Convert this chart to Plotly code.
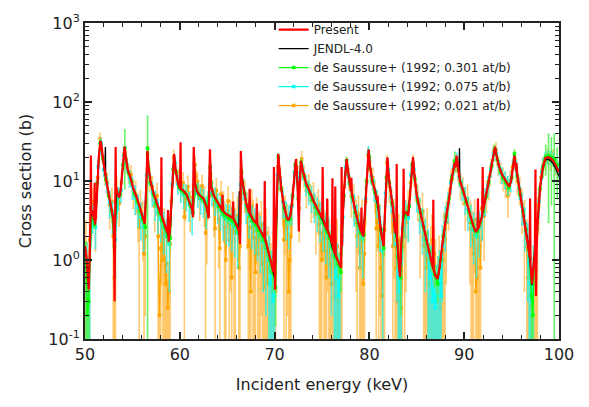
import plotly.graph_objects as go

# ---- Evaluated cross sections: (incident energy keV, cross section b) ----
present = [
    (50.00, 1.5), (50.15, 1.1), (50.30, 0.6), (50.40, 0.42), (50.50, 1.2), (50.58, 3.4), (50.62, 21), (50.66, 3.8),
    (50.75, 4.2), (50.90, 3.5), (50.98, 3.2), (51.02, 9.5), (51.06, 2.8), (51.15, 3.5), (51.30, 9), (51.45, 20),
    (51.62, 32), (51.70, 31), (51.85, 21), (52.00, 15), (52.20, 11), (52.40, 8), (52.60, 5.8), (52.85, 4.2),
    (53.00, 3.2), (53.08, 1.2), (53.12, 0.3), (53.17, 2.0), (53.20, 6), (53.23, 27), (53.27, 8.5), (53.45, 6.8),
    (53.60, 6.2), (53.75, 7.5), (53.90, 11), (54.05, 19), (54.18, 27), (54.30, 20), (54.50, 14), (54.80, 11),
    (55.10, 8), (55.50, 6), (55.80, 4.5), (56.10, 3.6), (56.30, 2.9), (56.45, 8), (56.58, 24), (56.70, 15),
    (56.90, 10), (57.20, 7.2), (57.50, 5.5), (57.80, 4.4), (58.02, 3.7), (58.06, 20), (58.10, 3.6), (58.40, 2.8),
    (58.70, 2.2), (58.76, 4.3), (58.82, 1.7), (58.95, 2.4), (59.10, 5), (59.25, 12), (59.40, 22), (59.55, 14),
    (59.80, 9.5), (60.02, 8), (60.08, 31), (60.13, 8), (60.35, 7.6), (60.70, 6.8), (61.00, 5.5), (61.30, 4.4),
    (61.40, 3.5), (61.47, 27), (61.60, 9.5), (61.80, 7.4), (62.10, 6.6), (62.50, 6.0), (62.80, 4.8), (63.05, 3.4),
    (63.18, 25), (63.30, 8.5), (63.60, 6.5), (63.90, 5.6), (64.20, 5.0), (64.46, 4.3), (64.51, 6.7), (64.56, 4.2),
    (64.90, 3.8), (65.30, 3.6), (65.57, 3.4), (65.62, 5.5), (65.67, 3.3), (66.00, 2.8), (66.25, 2.3), (66.36, 1.6),
    (66.44, 24), (66.55, 11), (66.70, 8.5), (67.00, 5.2), (67.30, 4.0), (67.37, 8), (67.42, 3.9), (67.75, 3.2),
    (68.08, 2.9), (68.13, 5.2), (68.18, 2.8), (68.46, 2.4), (68.80, 2.0), (68.92, 1.9), (68.96, 10), (69.00, 1.8),
    (69.20, 1.5), (69.45, 1.1), (69.70, 0.85), (69.88, 0.7), (69.93, 15), (69.98, 0.55), (70.05, 0.42), (70.15, 2.5),
    (70.25, 8), (70.38, 22), (70.50, 15), (70.70, 8), (71.00, 4.8), (71.30, 3.4), (71.45, 3.2), (71.65, 3.6),
    (71.85, 5.5), (72.05, 11), (72.25, 19), (72.42, 9), (72.52, 4), (72.56, 2.3), (72.62, 8), (72.78, 18),
    (72.95, 14), (73.30, 9.5), (73.70, 7.4), (74.10, 5.6), (74.50, 4.5), (74.80, 3.8), (75.02, 3.4), (75.07, 15),
    (75.12, 3.3), (75.40, 2.6), (75.50, 2.45), (75.55, 6), (75.60, 2.35), (75.90, 1.9), (76.05, 1.6), (76.10, 10.8),
    (76.15, 1.5), (76.35, 1.2), (76.40, 8.5), (76.45, 1.15), (76.70, 0.95), (76.90, 0.85), (77.02, 0.8), (77.07, 15),
    (77.12, 1.5), (77.15, 2.5), (77.30, 7), (77.45, 13), (77.60, 19), (77.75, 13), (77.95, 9), (78.05, 7.5),
    (78.10, 11), (78.15, 7), (78.50, 4.2), (78.80, 3.0), (79.05, 2.4), (79.12, 2.3), (79.16, 4.6), (79.20, 2.2),
    (79.36, 2.0), (79.50, 3.5), (79.65, 8), (79.80, 16), (79.92, 25), (80.05, 16), (80.30, 10), (80.60, 7.5),
    (80.80, 5.6), (80.85, 6.5), (80.90, 5.0), (81.00, 4.0), (81.18, 2.4), (81.35, 1.8), (81.50, 1.5), (81.60, 3),
    (81.75, 9), (81.90, 19.8), (82.05, 11), (82.30, 6.5), (82.50, 4.5), (82.60, 3.0), (82.70, 2.2), (82.80, 2.6),
    (82.85, 3.0), (82.88, 16.4), (82.92, 2.0), (83.10, 0.9), (83.23, 0.61), (83.35, 1.5), (83.50, 3.0), (83.57, 3.5),
    (83.61, 14.3), (83.65, 4), (83.90, 4), (84.10, 3.6), (84.30, 7), (84.45, 14), (84.60, 20), (84.75, 12),
    (85.00, 6.5), (85.34, 4.2), (85.60, 3.0), (85.90, 2.0), (86.20, 1.4), (86.50, 1.0), (86.70, 0.8), (86.74, 5.8),
    (86.78, 0.75), (87.00, 0.62), (87.20, 0.58), (87.40, 0.8), (87.70, 1.6), (87.95, 2.8), (88.15, 3.8), (88.40, 6),
    (88.70, 11), (89.00, 17), (89.10, 15), (89.20, 21), (89.35, 14), (89.55, 10), (89.90, 7.5), (90.30, 5.0),
    (90.70, 3.4), (91.00, 2.6), (91.20, 2.3), (91.40, 2.4), (91.45, 6), (91.50, 2.5), (91.90, 3.6), (91.95, 15),
    (92.00, 4.2), (92.30, 6.5), (92.60, 10), (92.90, 16), (93.25, 27), (93.45, 20), (93.70, 15), (94.00, 12),
    (94.40, 10), (94.75, 8.5), (94.95, 10), (95.15, 16), (95.30, 21), (95.45, 14), (95.52, 17), (95.58, 12.5),
    (95.65, 11), (95.90, 7), (96.20, 4.2), (96.50, 2.5), (96.75, 1.6), (96.90, 1.1), (96.95, 6), (97.00, 0.85),
    (97.15, 0.5), (97.30, 0.9), (97.45, 1.2), (97.52, 14), (97.57, 0.35), (97.65, 1.5), (97.75, 3), (98.03, 8.9),
    (98.30, 15), (98.56, 19.5), (98.80, 20), (99.10, 19.5), (99.40, 18), (99.70, 15.5), (100.00, 13),
]

jendl = [
    (50.00, 1.5), (50.15, 1.1), (50.30, 0.6), (50.40, 0.45), (50.50, 1.2), (50.60, 3.5), (50.75, 4.2), (50.90, 3.5),
    (51.05, 3.0), (51.15, 3.5), (51.30, 9), (51.45, 20), (51.62, 32), (51.70, 31), (51.85, 21), (52.00, 15),
    (52.12, 11.8), (52.15, 27), (52.18, 11.4), (52.40, 8), (52.60, 5.8), (52.85, 4.2), (53.00, 3.2), (53.10, 1.2),
    (53.20, 2.5), (53.30, 7.5), (53.45, 6.8), (53.60, 6.2), (53.75, 7.5), (53.90, 11), (54.05, 19), (54.18, 27),
    (54.30, 20), (54.50, 14), (54.80, 11), (55.10, 8), (55.50, 6), (55.80, 4.5), (56.10, 3.6), (56.30, 2.9),
    (56.45, 8), (56.58, 24), (56.70, 15), (56.90, 10), (57.20, 7.2), (57.50, 5.5), (57.80, 4.4), (58.10, 3.6),
    (58.40, 2.8), (58.70, 2.2), (58.88, 1.9), (59.00, 2.6), (59.10, 5), (59.25, 12), (59.40, 22), (59.55, 14),
    (59.80, 9.5), (60.00, 8), (60.35, 7.6), (60.70, 6.8), (61.00, 5.5), (61.30, 4.4), (61.40, 3.5), (61.47, 27),
    (61.60, 9.5), (61.80, 7.4), (62.10, 6.6), (62.50, 6.0), (62.80, 4.8), (63.05, 3.4), (63.18, 25), (63.30, 8.5),
    (63.60, 6.5), (63.90, 5.6), (64.20, 5.0), (64.50, 4.2), (64.90, 3.8), (65.30, 3.6), (65.70, 3.3), (66.00, 2.8),
    (66.24, 2.35), (66.27, 7.4), (66.30, 2.1), (66.38, 1.6), (66.44, 24), (66.55, 11), (66.70, 8.5), (67.00, 5.2),
    (67.30, 4.0), (67.75, 3.2), (68.10, 2.9), (68.46, 2.4), (68.80, 2.0), (69.05, 1.8), (69.20, 1.5), (69.45, 1.1),
    (69.70, 0.85), (69.85, 0.7), (70.00, 0.6), (70.05, 0.62), (70.15, 2.5), (70.25, 8), (70.38, 22), (70.50, 15),
    (70.70, 8), (71.00, 4.8), (71.30, 3.4), (71.45, 3.2), (71.65, 3.6), (71.85, 5.5), (72.05, 11), (72.25, 19),
    (72.42, 9), (72.55, 5), (72.62, 8), (72.78, 18), (72.95, 14), (73.30, 9.5), (73.70, 7.4), (74.10, 5.6),
    (74.50, 4.5), (74.80, 3.8), (75.00, 3.4), (75.40, 2.6), (75.47, 2.5), (75.50, 4.0), (75.53, 2.45), (75.90, 1.9),
    (76.05, 1.5), (76.35, 1.2), (76.70, 0.95), (76.90, 0.85), (77.00, 0.8), (77.05, 1.2), (77.08, 4.4), (77.11, 1.8),
    (77.15, 2.5), (77.30, 7), (77.45, 13), (77.60, 19), (77.75, 13), (77.95, 9), (78.20, 6.5), (78.50, 4.2),
    (78.80, 3.0), (79.05, 2.4), (79.25, 2.1), (79.36, 2.0), (79.50, 3.5), (79.65, 8), (79.80, 16), (79.92, 25),
    (80.05, 16), (80.30, 10), (80.60, 7.5), (80.85, 5.3), (81.00, 4.0), (81.20, 2.6), (81.35, 1.8), (81.50, 1.5),
    (81.60, 3), (81.75, 9), (81.90, 19.8), (82.05, 11), (82.30, 6.5), (82.50, 4.5), (82.65, 3.2), (82.80, 2.2),
    (82.95, 1.6), (83.10, 0.9), (83.23, 0.61), (83.35, 1.5), (83.50, 3.0), (83.70, 4), (83.90, 4), (84.10, 3.7),
    (84.30, 7), (84.45, 14), (84.60, 20), (84.75, 12), (85.00, 6.5), (85.34, 4.2), (85.60, 3.0), (85.90, 2.0),
    (86.20, 1.4), (86.50, 1.0), (86.70, 0.8), (87.00, 0.62), (87.20, 0.58), (87.40, 0.8), (87.70, 1.6), (87.95, 2.8),
    (88.15, 3.8), (88.40, 6), (88.70, 11), (89.00, 17), (89.10, 15), (89.20, 20), (89.35, 14), (89.47, 11),
    (89.50, 26), (89.53, 10.5), (89.90, 7.5), (90.30, 5.0), (90.70, 3.4), (91.00, 2.6), (91.20, 2.3), (91.50, 2.6),
    (91.85, 3.5), (92.05, 4.5), (92.30, 6.5), (92.60, 10), (92.90, 16), (93.25, 27), (93.45, 20), (93.70, 15),
    (94.00, 12), (94.40, 10), (94.75, 8.5), (94.95, 10), (95.15, 16), (95.30, 21), (95.45, 14), (95.65, 11),
    (95.90, 7), (96.20, 4.2), (96.50, 2.5), (96.75, 1.6), (97.00, 0.8), (97.15, 0.48), (97.30, 0.9), (97.50, 1.5),
    (97.75, 3), (98.03, 8.7), (98.30, 14.5), (98.56, 18.5), (98.80, 18.8), (99.10, 18.3), (99.40, 16.5),
    (99.70, 14), (100.00, 11.5),
]

# ---- de Saussure+ (1992) transmission data: (E keV, xs b, error b) ----
saussure_301 = [
    (50.1, 0.9, 0.8), (50.25, 0.2, 0.25), (50.4, 0.3, 0.35), (50.7, 3.6, 0.4), (51.0, 2.8, 0.3), (51.3, 9.5, 0.8),
    (51.6, 30, 3), (51.9, 19, 1.5), (52.2, 10.5, 0.8), (52.5, 6.5, 0.5), (52.8, 4.2, 0.4), (53.1, 1.5, 0.5),
    (53.4, 7, 0.6), (53.7, 6.8, 0.6), (54.0, 16, 1.5), (54.2, 26, 18), (54.6, 12.5, 1), (54.9, 9.8, 0.8),
    (55.2, 7, 0.6), (55.5, 5.6, 0.5), (55.8, 4.2, 0.5), (56.1, 3.3, 0.5), (56.35, 2.6, 0.5), (56.6, 26, 40),
    (56.9, 9.5, 0.8), (57.2, 6.8, 0.6), (57.5, 5.2, 0.5), (57.8, 4.1, 0.5), (58.1, 3.2, 0.5), (58.4, 2.6, 0.4),
    (58.7, 2.0, 0.4), (59.0, 1.9, 0.5), (59.3, 14, 1.2), (59.6, 13, 1), (59.9, 8.5, 0.7), (60.2, 7.6, 0.6),
    (60.5, 7.0, 0.6), (60.8, 6.2, 0.6), (61.1, 5.0, 0.5), (61.4, 4.0, 0.5), (61.7, 8.5, 0.7), (62.0, 6.7, 0.6),
    (62.3, 6.1, 0.6), (62.6, 5.4, 0.5), (62.9, 4.3, 0.5), (63.2, 15, 1.5), (63.5, 6.8, 0.6), (63.8, 5.7, 0.5),
    (64.1, 4.8, 0.5), (64.4, 4.2, 0.5), (64.7, 3.7, 0.5), (65.0, 3.5, 0.5), (65.3, 3.3, 0.5), (65.6, 3.1, 0.5),
    (65.9, 2.8, 0.5), (66.2, 2.2, 0.4), (66.5, 13, 1.2), (66.8, 7.2, 0.6), (67.1, 4.6, 0.5), (67.4, 3.6, 0.5),
    (67.7, 3.1, 0.5), (68.0, 2.8, 0.5), (68.3, 2.4, 0.5), (68.6, 2.1, 0.4), (68.9, 1.8, 0.4), (69.2, 1.4, 0.3),
    (69.5, 1.0, 0.3), (69.8, 0.7, 0.3), (70.1, 0.45, 0.3), (70.4, 20, 2), (70.7, 8, 0.7), (71.0, 4.6, 0.5),
    (71.3, 3.3, 0.5), (71.6, 3.3, 0.5), (71.9, 6.5, 0.6), (72.2, 16, 1.5), (72.5, 6, 0.6), (72.8, 17, 1.5),
    (73.1, 11.5, 1), (73.4, 8.8, 0.8), (73.7, 7, 0.6), (74.0, 5.7, 0.5), (74.3, 4.7, 0.5), (74.6, 4.0, 0.5),
    (74.9, 3.4, 0.5), (75.2, 2.9, 0.5), (75.5, 2.3, 0.4), (75.8, 1.9, 0.4), (76.1, 1.4, 0.3), (76.4, 1.1, 0.3),
    (76.7, 0.9, 0.3), (77.0, 0.7, 0.3), (77.3, 6.5, 0.6), (77.6, 18, 1.6), (77.9, 9.5, 0.8), (78.2, 6.2, 0.6),
    (78.5, 4.0, 0.5), (78.8, 2.9, 0.4), (79.1, 2.2, 0.4), (79.4, 2.1, 0.4), (79.7, 10, 0.9), (80.0, 20, 2),
    (80.3, 10, 0.9), (80.6, 7.2, 0.6), (80.9, 4.8, 0.5), (81.2, 2.4, 0.4), (81.5, 1.4, 0.3), (81.8, 11, 1),
    (82.1, 9.5, 0.8), (82.4, 5.3, 0.5), (82.7, 2.8, 0.4), (83.0, 1.1, 0.3), (83.3, 0.6, 0.4), (83.6, 3.5, 0.5),
    (83.9, 3.8, 0.5), (84.2, 4.8, 0.5), (84.5, 16, 1.5), (84.8, 10.5, 1), (85.1, 5.5, 0.5), (85.4, 3.9, 0.5),
    (85.7, 2.6, 0.4), (86.0, 1.8, 0.4), (86.3, 1.3, 0.3), (86.6, 0.9, 0.2), (86.9, 0.65, 0.2), (87.2, 0.5, 0.2),
    (87.5, 1.0, 0.2), (87.8, 2.0, 0.3), (88.1, 3.5, 0.4), (88.4, 6, 0.6), (88.7, 11, 1), (89.0, 18, 5),
    (89.3, 16, 3), (89.6, 9.5, 0.8), (89.9, 7.2, 0.6), (90.2, 5.5, 0.5), (90.5, 4.0, 0.5), (90.8, 3.0, 0.4),
    (91.1, 2.4, 0.4), (91.4, 2.3, 0.4), (91.7, 3.0, 0.4), (92.0, 4.2, 0.5), (92.3, 6.3, 0.6), (92.6, 9.8, 0.9),
    (92.9, 15.5, 1.5), (93.2, 25, 3), (93.5, 18.5, 2), (93.8, 13.5, 1.2), (94.1, 11, 1), (94.4, 9.6, 0.9),
    (94.7, 8.3, 0.8), (95.0, 11, 1), (95.3, 22, 2.5), (95.6, 11.5, 1), (95.9, 6.8, 0.6), (96.2, 4.1, 0.5),
    (96.5, 2.4, 0.4), (96.8, 1.4, 0.3), (97.1, 0.35, 0.25), (97.25, 0.2, 0.15), (97.4, 1.0, 0.3), (97.7, 2.5, 0.4),
    (98.0, 8, 0.8), (98.3, 15, 4), (98.6, 20, 8), (98.9, 21, 18), (99.2, 20, 15), (99.5, 19, 20), (99.8, 16, 10),
]

saussure_075 = [
    (50.2, 0.8, 0.8), (50.35, 0.4, 0.5), (50.5, 1.0, 1.0), (50.8, 3.6, 1.4), (51.1, 2.6, 1.2), (51.4, 15, 3),
    (51.7, 30, 4), (52.0, 14, 2.5), (52.3, 9.2, 2), (52.6, 5.4, 2), (52.9, 3.8, 1.6), (53.2, 1.8, 1.2),
    (53.5, 6.2, 2), (53.8, 7.6, 2.2), (54.1, 21, 3.5), (54.4, 16, 3), (54.7, 11, 2.5), (55.0, 8.5, 2.6),
    (55.3, 6.2, 2.4), (55.6, 4.6, 2), (55.9, 3.5, 1.7), (56.2, 2.6, 1.3), (56.5, 12, 2.5), (56.8, 11.5, 2.5),
    (57.1, 7.2, 2.4), (57.4, 5.3, 2.1), (57.7, 4.0, 1.8), (58.0, 3.3, 1.6), (58.3, 2.6, 1.4), (58.6, 2.0, 1.3),
    (58.9, 1.6, 1.2), (59.2, 9, 2.2), (59.5, 17, 3), (59.8, 9.2, 2.4), (60.1, 7.8, 2.4), (60.4, 6.8, 2.3),
    (60.7, 6.5, 2.3), (61.0, 5.1, 2), (61.3, 4.0, 1.9), (61.6, 9, 2.4), (61.9, 7.0, 2.3), (62.2, 6.0, 2.2),
    (62.5, 5.6, 2.1), (62.8, 4.4, 1.9), (63.1, 7, 2.4), (63.4, 7.2, 2.3), (63.7, 5.9, 2.2), (64.0, 4.9, 2),
    (64.3, 4.3, 1.9), (64.6, 3.6, 1.8), (64.9, 3.3, 1.7), (65.2, 3.2, 1.7), (65.5, 2.9, 1.6), (65.8, 2.6, 1.5),
    (66.1, 2.2, 1.4), (66.4, 9, 2.5), (66.7, 8.2, 2.4), (67.0, 4.9, 2), (67.3, 3.7, 1.8), (67.6, 3.1, 1.7),
    (67.9, 2.8, 1.6), (68.2, 2.5, 1.5), (68.5, 2.1, 1.4), (68.8, 1.7, 1.3), (69.1, 1.4, 1.2), (69.4, 1.0, 1.0),
    (69.55, 0.5, 0.6), (69.7, 0.6, 0.7), (69.85, 0.3, 0.4), (70.0, 0.35, 0.5), (70.3, 12, 2.5), (70.6, 10.5, 2.4),
    (70.9, 5.4, 2), (71.2, 3.6, 1.8), (71.5, 3.1, 1.7), (71.8, 4.8, 2), (72.1, 13, 2.6), (72.4, 10, 2.4),
    (72.7, 13, 2.6), (73.0, 13, 2.6), (73.3, 9.0, 2.4), (73.6, 7.5, 2.4), (73.9, 6.2, 2.2), (74.2, 5.0, 2),
    (74.5, 4.2, 1.9), (74.8, 3.5, 1.8), (75.1, 3.0, 1.7), (75.4, 2.4, 1.5), (75.7, 2.0, 1.4), (76.0, 1.5, 1.3),
    (76.3, 1.1, 1.1), (76.45, 0.6, 0.7), (76.6, 0.8, 0.8), (76.75, 0.35, 0.45), (76.9, 0.6, 0.6), (77.2, 3.5, 1.8),
    (77.5, 15, 3), (77.8, 11.5, 2.5), (78.1, 7.5, 2.3), (78.4, 4.7, 2), (78.7, 3.2, 1.7), (79.0, 2.3, 1.5),
    (79.3, 1.9, 1.3), (79.6, 6, 2.2), (79.9, 23, 4), (80.2, 11.5, 2.5), (80.5, 8.0, 2.4), (80.8, 5.5, 2.1),
    (81.1, 3.0, 1.7), (81.4, 1.3, 1.2), (81.7, 7, 2.3), (82.0, 14, 2.8), (82.3, 6.2, 2.2), (82.6, 3.2, 1.7),
    (82.9, 1.6, 1.3), (83.05, 0.6, 0.8), (83.2, 0.4, 0.6), (83.35, 0.9, 1.0), (83.5, 2.5, 1.5), (83.8, 3.7, 1.8),
    (84.1, 3.4, 1.7), (84.4, 12, 2.6), (84.7, 14, 2.8), (85.0, 6.3, 2.2), (85.3, 4.1, 1.9), (85.6, 2.8, 1.6),
    (85.9, 1.8, 1.4), (86.2, 1.2, 1.2), (86.35, 0.6, 0.7), (86.5, 0.7, 0.8), (86.65, 0.3, 0.4), (86.8, 0.45, 0.6),
    (86.95, 0.25, 0.35), (87.1, 0.35, 0.5), (87.25, 0.5, 0.6), (87.4, 0.6, 0.7), (87.55, 0.35, 0.45),
    (87.7, 1.5, 1.2), (88.0, 3.0, 1.7), (88.3, 5.0, 2), (88.6, 9.5, 2.4), (88.9, 15, 3), (89.2, 19, 3.4),
    (89.5, 11, 2.5), (89.8, 8.0, 2.3), (90.1, 6.0, 2.2), (90.4, 4.3, 1.9), (90.7, 3.2, 1.7), (91.0, 2.4, 1.5),
    (91.3, 2.0, 1.4), (91.6, 2.6, 1.5), (91.9, 3.6, 1.8), (92.2, 5.8, 2.1), (92.5, 8.8, 2.4), (92.8, 14, 2.8),
    (93.1, 22, 3.5), (93.4, 22, 3.5), (93.7, 15, 3), (94.0, 12, 2.6), (94.3, 10.5, 2.5), (94.6, 9.0, 2.4),
    (94.9, 9.8, 2.4), (95.2, 17, 3), (95.5, 15, 3), (95.8, 8.2, 2.3), (96.1, 4.8, 2), (96.4, 2.9, 1.6),
    (96.7, 1.6, 1.3), (96.85, 0.9, 1.0), (97.0, 0.5, 0.6), (97.15, 0.3, 0.4), (97.3, 0.7, 0.8), (97.6, 1.8, 1.3),
    (97.9, 5.5, 2.1), (98.2, 13, 2.8), (98.5, 19, 3.4), (98.8, 20, 3.8), (99.1, 20, 3.8), (99.4, 19, 3.5),
    (99.7, 16, 3.2), (100.0, 14, 3),
]

saussure_021 = [
    (50.10, 1.6, 1.5), (50.22, 0.6, 0.7), (50.35, 0.5, 0.5), (50.48, 1.8, 1.9), (50.60, 4.5, 2.5),
    (50.85, 5.5, 2.5), (51.10, 3.5, 2.2), (51.35, 11, 3), (51.60, 34, 6), (51.85, 21, 4), (52.10, 12, 3),
    (52.35, 9.5, 3), (52.60, 5.0, 2.5), (52.85, 5.5, 2.5), (52.98, 2.0, 2.2), (53.10, 0.6, 0.6), (53.22, 3.0, 3.1),
    (53.35, 8, 3), (53.60, 5.2, 2.5), (53.85, 9.5, 3), (54.10, 22, 5), (54.35, 19, 4.5), (54.60, 13, 3.5),
    (54.85, 12, 3.5), (55.10, 7.5, 3), (55.35, 6.8, 3), (55.60, 4.2, 2.5), (55.72, 2.6, 2.7), (55.85, 5.0, 2.5),
    (56.10, 3.2, 2.2), (56.22, 1.2, 1.4), (56.35, 2.0, 1.8), (56.60, 22, 5), (56.85, 11, 3.5), (57.10, 8.5, 3),
    (57.35, 4.8, 2.5), (57.60, 6.5, 2.8), (57.72, 2.0, 2.2), (57.85, 0.2, 0.25), (57.98, 1.4, 1.6),
    (58.10, 3.0, 2.5), (58.22, 1.0, 1.2), (58.35, 2.2, 2.2), (58.48, 0.5, 0.6), (58.60, 0.9, 1.0),
    (58.72, 0.25, 0.3), (58.85, 0.4, 0.5), (58.98, 1.6, 1.8), (59.10, 5.5, 2.8), (59.35, 20, 4.5), (59.60, 13, 3.5),
    (59.85, 10.5, 3.3), (60.10, 8.8, 3), (60.35, 9.5, 3.2), (60.48, 3.5, 3.6), (60.60, 6.0, 2.8), (60.85, 8.5, 3),
    (61.10, 4.8, 2.5), (61.35, 6.2, 2.8), (61.60, 16, 4), (61.85, 9.8, 3), (62.10, 6.0, 2.8), (62.35, 8.6, 3),
    (62.60, 5.5, 2.8), (62.72, 2.2, 2.4), (62.85, 3.4, 2.5), (63.10, 6.5, 3), (63.35, 9.6, 3.2), (63.60, 5.0, 3),
    (63.72, 2.5, 2.7), (63.85, 7.6, 3), (64.10, 3.3, 2.5), (64.22, 1.4, 1.6), (64.35, 6.8, 3), (64.60, 4.5, 2.8),
    (64.72, 2.6, 2.8), (64.85, 1.0, 1.2), (65.10, 5.6, 2.8), (65.22, 1.8, 2.0), (65.35, 3.0, 2.6), (65.48, 0.6, 0.8),
    (65.60, 4.4, 2.7), (65.72, 2.5, 2.6), (65.85, 2.2, 2.2), (66.10, 3.6, 2.6), (66.22, 0.8, 1.0), (66.35, 1.5, 1.8),
    (66.60, 10, 3.2), (66.85, 7.0, 3), (67.10, 4.2, 2.8), (67.22, 1.5, 1.7), (67.35, 2.6, 2.6), (67.48, 0.4, 0.6),
    (67.60, 4.8, 2.8), (67.72, 2.8, 2.9), (67.85, 1.9, 2.0), (67.98, 0.7, 0.9), (68.10, 3.5, 2.6), (68.22, 1.2, 1.4),
    (68.35, 2.0, 2.0), (68.48, 1.8, 2.0), (68.60, 2.8, 2.6), (68.72, 0.9, 1.1), (68.85, 0.45, 0.6), (68.98, 1.5, 1.6),
    (69.10, 2.2, 2.2), (69.22, 0.5, 0.6), (69.35, 1.2, 1.4), (69.48, 0.9, 1.0), (69.60, 0.7, 0.9), (69.72, 0.3, 0.4),
    (69.85, 1.1, 1.2), (69.98, 1.2, 1.3), (70.10, 0.4, 0.5), (70.35, 15, 4), (70.60, 11, 3.5), (70.85, 5.5, 2.8),
    (70.98, 1.8, 2.0), (71.10, 3.8, 2.6), (71.22, 2.5, 2.6), (71.35, 2.6, 2.4), (71.48, 0.4, 0.6), (71.60, 1.0, 1.2),
    (71.72, 2.0, 2.2), (71.85, 5.0, 2.8), (72.10, 13, 3.6), (72.35, 15, 4), (72.60, 4.5, 2.8), (72.85, 19, 4.5),
    (73.10, 12, 3.5), (73.35, 7.6, 3), (73.60, 8.8, 3.2), (73.85, 5.8, 2.8), (74.10, 6.5, 3), (74.35, 3.8, 2.6),
    (74.60, 4.9, 2.8), (74.72, 2.8, 2.9), (74.85, 2.2, 2.3), (74.98, 1.0, 1.2), (75.10, 3.6, 2.6), (75.22, 2.0, 2.2),
    (75.35, 1.3, 1.5), (75.48, 0.6, 0.8), (75.60, 3.0, 2.6), (75.72, 1.5, 1.7), (75.85, 0.9, 1.1), (75.98, 0.5, 0.7),
    (76.10, 2.2, 2.2), (76.22, 1.2, 1.4), (76.35, 0.35, 0.5), (76.48, 0.8, 1.0), (76.60, 1.5, 1.7), (76.72, 0.3, 0.4),
    (76.85, 0.6, 0.8), (76.98, 1.2, 1.4), (77.10, 2.0, 2.0), (77.35, 8.5, 3), (77.60, 16, 4), (77.85, 11, 3.4),
    (78.10, 6.5, 3), (78.35, 6.0, 2.8), (78.60, 3.0, 2.6), (78.72, 2.0, 2.2), (78.85, 3.8, 2.6), (78.98, 0.8, 1.0),
    (79.10, 1.5, 1.7), (79.22, 2.8, 2.9), (79.35, 0.5, 0.7), (79.48, 1.2, 1.4), (79.60, 5.5, 2.8), (79.85, 21, 4.5),
    (80.10, 14, 3.8), (80.35, 11, 3.4), (80.60, 7.0, 3), (80.72, 2.5, 2.7), (80.85, 4.0, 2.7), (80.98, 1.5, 1.7),
    (81.10, 2.6, 2.4), (81.22, 0.8, 1.0), (81.35, 0.35, 0.5), (81.48, 1.2, 1.4), (81.60, 2.4, 2.4), (81.85, 17, 4),
    (82.10, 8.6, 3.2), (82.35, 5.0, 2.8), (82.48, 1.5, 1.7), (82.60, 3.2, 2.6), (82.72, 2.2, 2.4), (82.85, 0.8, 1.0),
    (82.98, 0.3, 0.4), (83.10, 1.8, 1.9), (83.22, 0.9, 1.1), (83.35, 0.25, 0.4), (83.48, 1.5, 1.7), (83.60, 4.0, 2.7),
    (83.72, 2.0, 2.2), (83.85, 3.0, 2.6), (84.10, 4.6, 2.8), (84.35, 9.6, 3.2), (84.60, 17, 4), (84.85, 8.8, 3.2),
    (85.10, 6.0, 2.8), (85.35, 3.2, 2.6), (85.60, 4.2, 2.7), (85.72, 2.0, 2.2), (85.85, 1.5, 1.8), (85.98, 0.8, 1.0),
    (86.10, 2.2, 2.2), (86.22, 1.0, 1.2), (86.35, 0.5, 0.7), (86.48, 1.2, 1.4), (86.60, 1.8, 1.9), (86.72, 0.4, 0.6),
    (86.85, 1.2, 1.4), (86.98, 0.8, 1.0), (87.10, 0.3, 0.4), (87.22, 0.5, 0.6), (87.35, 0.9, 1.1), (87.48, 0.25, 0.35),
    (87.60, 0.5, 0.7), (87.72, 1.0, 1.2), (87.85, 2.0, 2.0), (87.98, 1.8, 2.0), (88.10, 3.0, 2.5), (88.35, 5.2, 2.8),
    (88.60, 10, 3.2), (88.85, 14, 3.8), (89.10, 17, 4), (89.35, 14, 3.8), (89.60, 9.0, 3.2), (89.85, 8.0, 3),
    (90.10, 5.2, 2.8), (90.35, 6.0, 2.8), (90.60, 3.0, 2.5), (90.72, 2.5, 2.6), (90.85, 2.0, 2.1), (90.98, 1.2, 1.4),
    (91.10, 3.2, 2.5), (91.22, 0.4, 0.5), (91.35, 0.6, 0.8), (91.48, 2.0, 2.1), (91.60, 1.5, 1.7), (91.72, 0.8, 1.0),
    (91.85, 4.5, 2.7), (92.10, 3.6, 2.6), (92.35, 7.0, 3), (92.60, 9.0, 3.2), (92.85, 15, 3.8), (93.10, 23, 5),
    (93.35, 25, 5), (93.60, 16, 4), (93.85, 13, 3.6), (94.10, 11, 3.4), (94.35, 9.5, 3.2), (94.60, 6.5, 3),
    (94.85, 10, 3.3), (95.10, 15, 3.8), (95.35, 19, 4.3), (95.60, 10, 3.3), (95.85, 8.0, 3), (96.10, 5.0, 2.8),
    (96.35, 3.0, 2.6), (96.60, 1.5, 1.7), (96.72, 0.6, 0.8), (96.85, 0.9, 1.1), (96.98, 0.5, 0.6), (97.10, 0.25, 0.35),
    (97.22, 0.3, 0.4), (97.35, 0.6, 0.8), (97.48, 1.0, 1.2), (97.60, 2.0, 2.0), (97.72, 3.0, 3.1), (97.85, 5.0, 2.8),
    (98.10, 11, 3.4), (98.35, 16, 4), (98.60, 18, 4.3), (98.85, 21, 4.6), (99.10, 18, 4.3), (99.35, 20, 4.5),
    (99.60, 16, 4), (99.85, 14, 3.8),
]

y_tick_vals = [0.1, 1, 10, 100, 1000]
y_tick_text = ["10<sup>-1</sup>", "10<sup>0</sup>", "10<sup>1</sup>", "10<sup>2</sup>", "10<sup>3</sup>"]

FONT = "DejaVu Sans, Liberation Sans, sans-serif"
INK = "#222222"


def cols(rows):
    return [list(c) for c in zip(*rows)]


fig = go.Figure()

# experimental series: thinnest sample drawn first so the thicker ones sit on top
exp_series = [
    ("de Saussure+ (1992; 0.021 at/b)", saussure_021, "#ffa500", "rgba(255,185,70,0.75)"),
    ("de Saussure+ (1992; 0.075 at/b)", saussure_075, "#00ffff", "rgba(40,240,230,0.8)"),
    ("de Saussure+ (1992; 0.301 at/b)", saussure_301, "#00ff00", "rgba(80,240,80,0.85)"),
]
for name, rows, color, barcolor in exp_series:
    e, xs, err = cols(rows)
    fig.add_trace(go.Scatter(
        x=e, y=xs, name=name, mode="lines+markers",
        line=dict(color=color, width=1.3),
        marker=dict(color=color, size=3.5, symbol="square"),
        error_y=dict(type="data", array=err, color=barcolor, thickness=1.6, width=1),
    ))

e, xs = cols(jendl)
fig.add_trace(go.Scatter(x=e, y=xs, name="JENDL-4.0", mode="lines",
                         line=dict(color="black", width=1.4)))
e, xs = cols(present)
fig.add_trace(go.Scatter(x=e, y=xs, name="Present", mode="lines",
                         line=dict(color="#ff0000", width=2.2)))

axis_common = dict(
    showline=True, linecolor=INK, linewidth=2, mirror="allticks",
    ticks="inside", tickcolor=INK, tickwidth=1.5, ticklen=7,
    showgrid=False, zeroline=False,
    tickfont=dict(family=FONT, size=16, color=INK),
)

fig.update_xaxes(
    range=[50, 100], dtick=10, tick0=50,
    minor=dict(ticks="inside", ticklen=4, tickwidth=1, tickcolor=INK, dtick=2, showgrid=False),
    title=dict(text="Incident energy (keV)", font=dict(family=FONT, size=16, color=INK), standoff=16),
    **axis_common,
)
fig.update_yaxes(
    type="log", range=[-1, 3], tickvals=y_tick_vals, ticktext=y_tick_text,
    minor=dict(ticks="inside", ticklen=4, tickwidth=1, tickcolor=INK, dtick="D1", showgrid=False),
    title=dict(text="Cross section (b)", font=dict(family=FONT, size=16, color=INK), standoff=13),
    **axis_common,
)

fig.update_layout(
    width=589, height=407,
    margin=dict(l=85, r=30, t=13, b=68),
    paper_bgcolor="white", plot_bgcolor="white",
    showlegend=True,
    legend=dict(
        x=0.398, y=1.025, xanchor="left", yanchor="top",
        traceorder="reversed", bgcolor="rgba(0,0,0,0)",
        font=dict(family=FONT, size=12, color=INK),
        itemwidth=30, tracegroupgap=0,
    ),
)

fig.write_html("out.html")
